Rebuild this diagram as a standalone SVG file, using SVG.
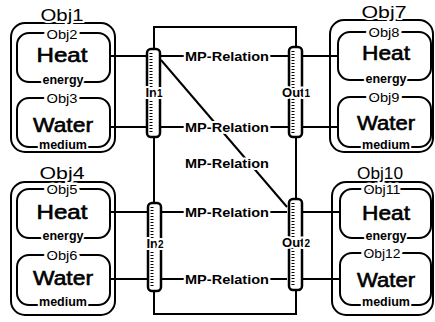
<svg xmlns="http://www.w3.org/2000/svg" width="435" height="322" viewBox="0 0 435 322">
<style>
text{font-family:"Liberation Sans",Arial,sans-serif;fill:#000;text-anchor:middle}
.halo{paint-order:stroke;stroke:#fff;stroke-width:4px;stroke-linejoin:round}
.sub.halo{stroke-width:5px}
.outer,.inner{fill:none;stroke:#000;stroke-width:2}
.port{fill:#fff;stroke:#000;stroke-width:2.5}
.tick{stroke:#000;stroke-width:3;stroke-dasharray:1 2;fill:none}
.ln{stroke:#000;stroke-width:2;fill:none}
.big{font-size:20px;stroke:#000;stroke-width:0.6px}
.obj{font-size:17px}
.sub{font-size:12px}
.role{font-size:12.5px;font-weight:bold}
.rel{font-size:13px;font-weight:bold}
.pl{font-size:13px;font-weight:bold}
</style>
<rect width="435" height="322" fill="#fff"/>

<g id="connectors">
  <path class="ln" d="M154,49 V27 H296 V47 M154,137 V203 M296,137 V198 M154,291 V314 H296 V290"/>
  <path class="ln" d="M110,56 H146 M160,56 H288 M303,56 H338"/>
  <path class="ln" d="M110,127 H146 M160,127 H288 M303,127 H338"/>
  <path class="ln" d="M110,212 H147 M161,212 H287 M303,212 H340"/>
  <path class="ln" d="M110,279 H147 M161,279 H287 M303,279 H340"/>
  <path class="ln" d="M161,60 L287,207"/>
  <text class="rel halo" x="227" y="61" textLength="84" lengthAdjust="spacingAndGlyphs">MP-Relation</text>
  <text class="rel halo" x="227" y="132" textLength="84" lengthAdjust="spacingAndGlyphs">MP-Relation</text>
  <text class="rel halo" x="227" y="168" textLength="84" lengthAdjust="spacingAndGlyphs">MP-Relation</text>
  <text class="rel halo" x="227" y="217" textLength="84" lengthAdjust="spacingAndGlyphs">MP-Relation</text>
  <text class="rel halo" x="227" y="284" textLength="84" lengthAdjust="spacingAndGlyphs">MP-Relation</text>
</g>

<g id="In1">
  <rect class="port" x="147" y="49" width="13" height="88" rx="4"/>
  <line class="tick" x1="151" y1="53" x2="151" y2="133"/>
  <text class="pl halo" x="154" y="97">In<tspan font-size="10">1</tspan></text>
</g>
<g id="Out1">
  <rect class="port" x="289" y="47" width="13" height="90" rx="4"/>
  <line class="tick" x1="293" y1="51" x2="293" y2="133"/>
  <text class="pl halo" x="296" y="97">Out<tspan font-size="10">1</tspan></text>
</g>
<g id="In2">
  <rect class="port" x="148" y="203" width="13" height="88" rx="4"/>
  <line class="tick" x1="152" y1="207" x2="152" y2="287"/>
  <text class="pl halo" x="155" y="248">In<tspan font-size="10">2</tspan></text>
</g>
<g id="Out2">
  <rect class="port" x="289" y="199" width="13" height="91" rx="4"/>
  <line class="tick" x1="293" y1="203" x2="293" y2="286"/>
  <text class="pl halo" x="296" y="247">Out<tspan font-size="10">2</tspan></text>
</g>

<g id="Obj1">
  <rect class="outer" x="11" y="23" width="104" height="129" rx="14"/>
  <text class="obj halo" x="62" y="21" textLength="43" lengthAdjust="spacingAndGlyphs">Obj1</text>
  <g id="Obj2">
    <rect class="inner" x="17" y="33" width="93" height="49" rx="12"/>
    <text class="sub halo" x="62" y="39" textLength="31" lengthAdjust="spacingAndGlyphs">Obj2</text>
    <text class="big" x="62" y="62" textLength="51" lengthAdjust="spacingAndGlyphs">Heat</text>
    <text class="role halo" x="63" y="84">energy</text>
  </g>
  <g id="Obj3">
    <rect class="inner" x="17" y="98" width="93" height="49" rx="12"/>
    <text class="sub halo" x="62" y="103" textLength="31" lengthAdjust="spacingAndGlyphs">Obj3</text>
    <text class="big" x="63" y="132" textLength="60" lengthAdjust="spacingAndGlyphs">Water</text>
    <text class="role halo" x="63" y="149">medium</text>
  </g>
</g>

<g id="Obj4">
  <rect class="outer" x="11" y="182" width="104" height="133" rx="14"/>
  <text class="obj halo" x="62" y="179" textLength="45" lengthAdjust="spacingAndGlyphs">Obj4</text>
  <g id="Obj5">
    <rect class="inner" x="17" y="189" width="93" height="49" rx="12"/>
    <text class="sub halo" x="62" y="194" textLength="31" lengthAdjust="spacingAndGlyphs">Obj5</text>
    <text class="big" x="62" y="219" textLength="51" lengthAdjust="spacingAndGlyphs">Heat</text>
    <text class="role halo" x="63" y="240">energy</text>
  </g>
  <g id="Obj6">
    <rect class="inner" x="17" y="255" width="93" height="50" rx="12"/>
    <text class="sub halo" x="62" y="260" textLength="31" lengthAdjust="spacingAndGlyphs">Obj6</text>
    <text class="big" x="63" y="285" textLength="60" lengthAdjust="spacingAndGlyphs">Water</text>
    <text class="role halo" x="63" y="306">medium</text>
  </g>
</g>

<g id="Obj7">
  <rect class="outer" x="330" y="20" width="103" height="132" rx="14"/>
  <text class="obj halo" x="384" y="18" textLength="45" lengthAdjust="spacingAndGlyphs">Obj7</text>
  <g id="Obj8">
    <rect class="inner" x="338" y="32" width="93" height="48" rx="12"/>
    <text class="sub halo" x="384" y="37" textLength="31" lengthAdjust="spacingAndGlyphs">Obj8</text>
    <text class="big" x="386" y="60" textLength="48" lengthAdjust="spacingAndGlyphs">Heat</text>
    <text class="role halo" x="386" y="83">energy</text>
  </g>
  <g id="Obj9">
    <rect class="inner" x="338" y="97" width="93" height="50" rx="12"/>
    <text class="sub halo" x="384" y="102" textLength="31" lengthAdjust="spacingAndGlyphs">Obj9</text>
    <text class="big" x="386" y="130" textLength="58" lengthAdjust="spacingAndGlyphs">Water</text>
    <text class="role halo" x="386" y="149">medium</text>
  </g>
</g>

<g id="Obj10">
  <rect class="outer" x="332" y="182" width="101" height="133" rx="14"/>
  <text class="obj halo" x="380" y="179" textLength="46" lengthAdjust="spacingAndGlyphs">Obj10</text>
  <g id="Obj11">
    <rect class="inner" x="340" y="189" width="91" height="49" rx="12"/>
    <text class="sub halo" x="382" y="194" textLength="37" lengthAdjust="spacingAndGlyphs">Obj11</text>
    <text class="big" x="386" y="220" textLength="48" lengthAdjust="spacingAndGlyphs">Heat</text>
    <text class="role halo" x="386" y="240">energy</text>
  </g>
  <g id="Obj12">
    <rect class="inner" x="340" y="253" width="91" height="52" rx="12"/>
    <text class="sub halo" x="382" y="258" textLength="37" lengthAdjust="spacingAndGlyphs">Obj12</text>
    <text class="big" x="386" y="287" textLength="58" lengthAdjust="spacingAndGlyphs">Water</text>
    <text class="role halo" x="386" y="306">medium</text>
  </g>
</g>
</svg>
